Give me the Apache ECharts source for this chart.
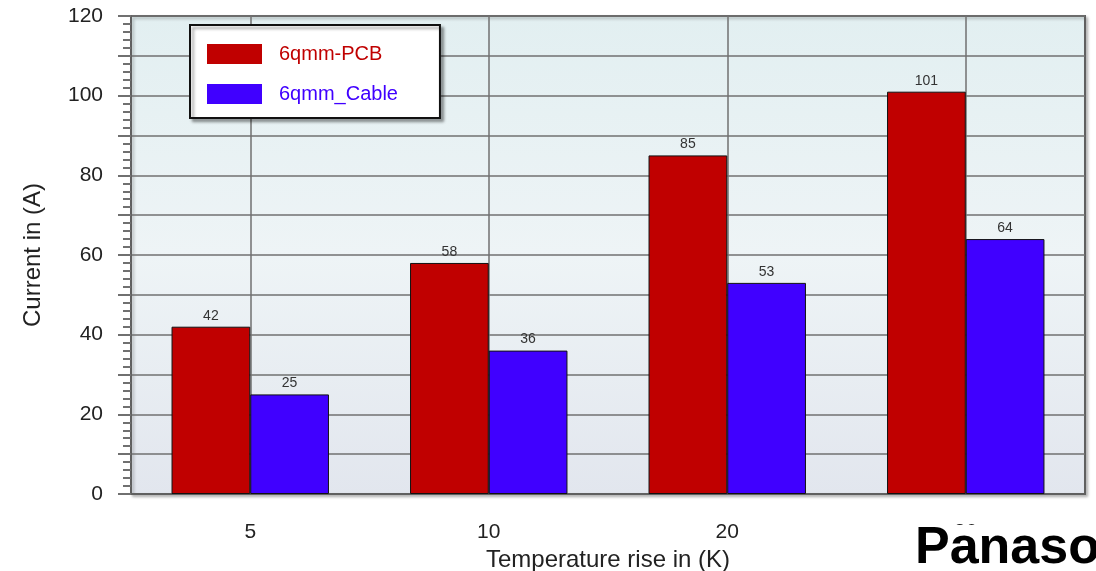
<!DOCTYPE html>
<html>
<head>
<meta charset="utf-8">
<script src="https://cdn.jsdelivr.net/npm/echarts@6/dist/echarts.min.js"></script>
<style>
  html, body { margin: 0; padding: 0; background: #fff; }
  #chart { width: 1096px; height: 571px; }
</style>
</head>
<body>
<div id="chart"></div>
<script>
var categories = ['5', '10', '20', '30'];
var pcbValues = [42, 58, 85, 101];
var cableValues = [25, 36, 53, 64];
var seriesNames = ['6qmm-PCB', '6qmm_Cable'];
var seriesColors = ['#c00000', '#4000ff'];

var chart = echarts.init(document.getElementById('chart'));
var font = '"Liberation Sans", Arial, sans-serif';

var barLabel = {
  show: true,
  position: 'top',
  distance: 4,
  fontSize: 14,
  fontFamily: font,
  color: '#333'
};

chart.setOption({
  animation: false,
  textStyle: { fontFamily: font },
  grid: {
    left: 131, right: 11, top: 16, bottom: 77,
    outerBoundsMode: 'none',
    show: true,
    borderColor: '#606060',
    borderWidth: 2,
    shadowColor: 'rgba(0,0,0,0.25)',
    shadowBlur: 3,
    shadowOffsetX: 2,
    shadowOffsetY: 2,
    backgroundColor: {
      type: 'linear', x: 0, y: 0, x2: 0, y2: 1,
      colorStops: [
        { offset: 0, color: '#e2eff1' },
        { offset: 0.5, color: '#eef4f6' },
        { offset: 1, color: '#e2e6ee' }
      ]
    }
  },
  legend: {
    orient: 'vertical',
    left: 190,
    top: 25,
    padding: [19, 42, 14, 17],
    itemWidth: 55,
    itemHeight: 20,
    itemGap: 20,
    icon: 'rect',
    backgroundColor: '#fff',
    borderColor: '#111',
    borderWidth: 2,
    shadowColor: 'rgba(0,0,0,0.35)',
    shadowBlur: 3,
    shadowOffsetX: 3,
    shadowOffsetY: 3,
    data: [
      { name: seriesNames[0], textStyle: { color: seriesColors[0] } },
      { name: seriesNames[1], textStyle: { color: seriesColors[1] } }
    ],
    itemStyle: { borderWidth: 0 },
    textStyle: { fontSize: 20, padding: [0, 0, 0, 12] }
  },
  xAxis: {
    type: 'category',
    data: categories,
    name: 'Temperature rise in (K)',
    nameLocation: 'middle',
    nameGap: 49,
    nameTextStyle: { fontSize: 24, color: '#222' },
    axisLine: { lineStyle: { color: '#606060', width: 2 } },
    axisTick: { alignWithLabel: true, length: 11, lineStyle: { color: '#707070', width: 2 } },
    axisLabel: { fontSize: 21, color: '#222', margin: 28 },
    splitLine: { show: true, alignWithLabel: true, lineStyle: { color: '#707070', width: 1.5 } }
  },
  yAxis: {
    type: 'value',
    min: 0, max: 120, interval: 10,
    name: 'Current in (A)',
    nameLocation: 'middle',
    nameGap: 86,
    nameTextStyle: { fontSize: 24, color: '#222' },
    axisLine: { show: true, lineStyle: { color: '#606060', width: 2 } },
    axisTick: { show: true, length: 13, lineStyle: { color: '#707070', width: 2 } },
    minorTick: { show: true, splitNumber: 5, length: 8, lineStyle: { color: '#707070', width: 2 } },
    axisLabel: {
      fontSize: 21, color: '#222', margin: 28,
      formatter: function (v) { return v % 20 === 0 ? v : ''; }
    },
    splitLine: { show: true, lineStyle: { color: '#707070', width: 1.5 } }
  },
  series: [
    {
      name: seriesNames[0], type: 'bar', data: pcbValues,
      barGap: '0%', barCategoryGap: '34%',
      itemStyle: { color: seriesColors[0], borderColor: '#111', borderWidth: 1 },
      label: barLabel
    },
    {
      name: seriesNames[1], type: 'bar', data: cableValues,
      itemStyle: { color: seriesColors[1], borderColor: '#111', borderWidth: 1 },
      label: barLabel
    }
  ],
  graphic: [
    {
      type: 'rect', z: 100,
      shape: { x: 900, y: 525, width: 196, height: 46 },
      style: { fill: '#fff' }
    },
    {
      type: 'text', z: 101, left: 915, top: 523,
      style: { text: 'Panasonic', font: 'bold 52px "Liberation Sans", Arial, sans-serif', fill: '#000' }
    }
  ]
});
</script>
</body>
</html>
